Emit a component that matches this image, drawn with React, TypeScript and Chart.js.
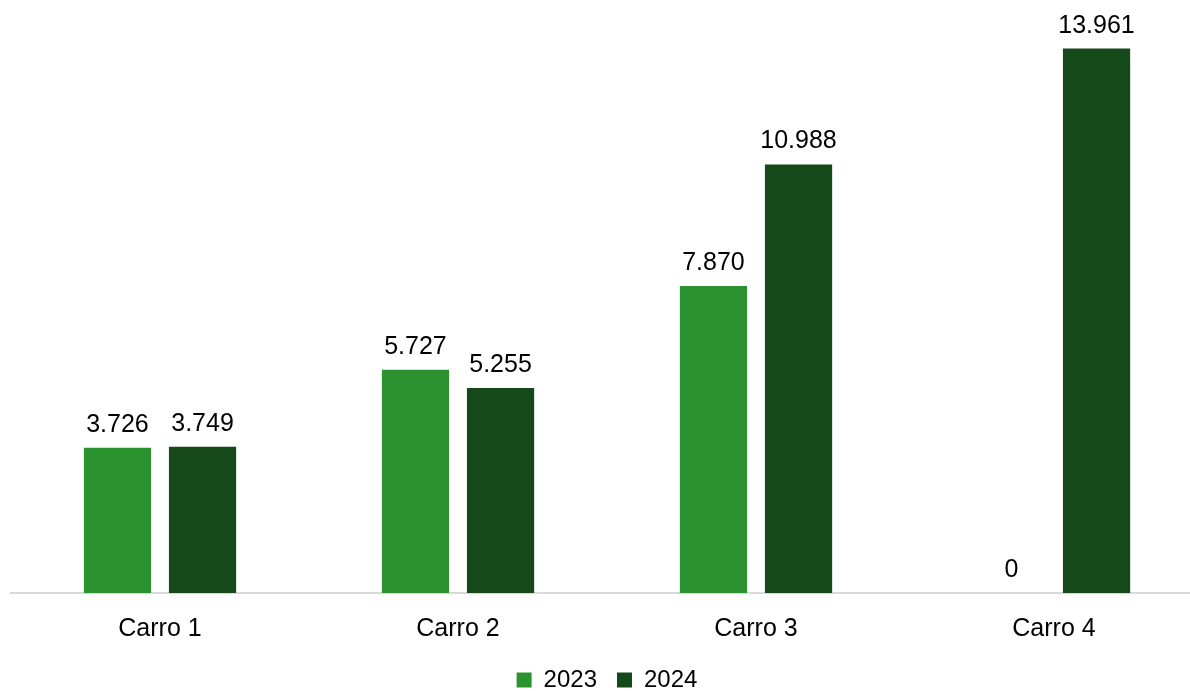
import React, { useEffect, useRef } from "react";
import { Chart, registerables } from "chart.js";

Chart.register(...registerables);

const categories = ["Carro 1", "Carro 2", "Carro 3", "Carro 4"];
const series2023 = [3726, 5727, 7870, 0];
const series2024 = [3749, 5255, 10988, 13961];
const seriesNames = ["2023", "2024"];
const colors = ["#2A9330", "#15491A"];

const FONT = "'Liberation Sans', Arial, sans-serif";

function fmt(v: number): string {
  const s = Math.round(v).toString();
  return s.replace(/\B(?=(\d{3})+(?!\d))/g, ".");
}

const labelPlugin = {
  id: "barLabels",
  afterDatasetsDraw(chart: any) {
    const ctx = chart.ctx;
    ctx.save();
    ctx.font = `25px ${FONT}`;
    ctx.fillStyle = "#000000";
    ctx.textAlign = "center";
    ctx.textBaseline = "alphabetic";
    chart.data.datasets.forEach((ds: any, di: number) => {
      const meta = chart.getDatasetMeta(di);
      meta.data.forEach((bar: any, i: number) => {
        ctx.fillText(fmt(ds.data[i]), bar.x, bar.y - 16);
      });
    });
    ctx.restore();
  },
};

const W = 1203;
const H = 702;

export default function App() {
  const ref = useRef<HTMLCanvasElement>(null);
  useEffect(() => {
    if (!ref.current) return;
    const chart = new Chart(ref.current, {
      type: "bar",
      data: {
        labels: categories,
        datasets: [
          { label: seriesNames[0], data: series2023, backgroundColor: colors[0] },
          { label: seriesNames[1], data: series2024, backgroundColor: colors[1] },
        ],
      },
      options: {
        animation: false,
        responsive: false,
        maintainAspectRatio: false,
        devicePixelRatio: 1,
        layout: { padding: { left: 11, right: 0, top: 8, bottom: 0 } },
        datasets: {
          bar: { categoryPercentage: 0.571, barPercentage: 0.79 },
        },
        scales: {
          x: {
            grid: { display: false, drawTicks: false },
            border: { display: true, color: "#d9d9d9", width: 2 },
            ticks: { color: "#000000", font: { family: FONT, size: 25 }, padding: 21 },
            afterFit: (scale: any) => {
              scale.height -= 17;
            },
          },
          y: {
            display: false,
            min: 0,
            max: 15000,
          },
        },
        plugins: {
          legend: {
            position: "bottom",
            labels: {
              boxWidth: 15,
              boxHeight: 15,
              padding: 20,
              color: "#000000",
              font: { family: FONT, size: 24 },
            },
          },
          tooltip: { enabled: false },
        },
      },
      plugins: [labelPlugin],
    });
    return () => chart.destroy();
  }, []);
  return (
    <div style={{ position: "fixed", left: 0, top: 0, width: W, height: H, background: "#fff" }}>
      <canvas ref={ref} width={W} height={H} style={{ width: W, height: H, display: "block" }} />
    </div>
  );
}
